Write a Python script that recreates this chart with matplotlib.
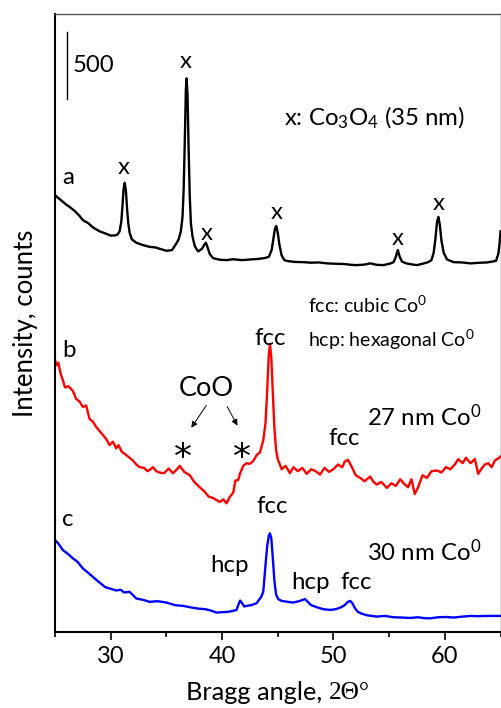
import matplotlib
matplotlib.use("Agg")
import matplotlib.pyplot as plt
import numpy as np

plt.rcParams['font.family'] = ['Lato', 'DejaVu Sans']
plt.rcParams['mathtext.fontset'] = 'custom'
plt.rcParams['mathtext.rm'] = 'Lato'
plt.rcParams['mathtext.it'] = 'Lato:italic'

# curve a: Co3O4 (black)
a_x = [25.0, 25.5, 26.0, 26.3, 26.8, 27.2, 27.5, 28.0, 28.4, 29.0, 29.5, 30.0, 30.4,
       30.6, 30.8, 30.95, 31.05, 31.15, 31.26, 31.37, 31.47, 31.58, 31.7, 31.9,
       32.3, 32.8, 33.5, 34.0, 34.6, 35.0, 35.5, 35.9, 36.1, 36.3, 36.45, 36.55,
       36.65, 36.75, 36.82, 36.9, 37.0, 37.1, 37.2, 37.35, 37.55, 37.85,
       38.2, 38.4, 38.55, 38.7, 38.9, 39.2, 39.8, 40.4, 41.0, 41.8, 42.5, 43.2, 43.8,
       44.2, 44.45, 44.6, 44.75, 44.87, 45.0, 45.15, 45.35, 45.6, 45.9, 46.5, 47.3,
       48.0, 48.7, 49.4, 50.2, 51.0, 51.6, 52.1, 52.8, 53.3, 53.9, 54.5, 55.1, 55.4,
       55.6, 55.78, 55.95, 56.15, 56.5, 56.9, 57.5, 58.0, 58.5, 58.8, 59.0, 59.15,
       59.3, 59.42, 59.55, 59.7, 59.9, 60.2, 60.8, 61.5, 62.3, 63.0, 63.8, 64.3,
       64.6, 64.8, 64.92, 65.0]
a_y = [3260, 3225, 3190, 3173, 3140, 3105, 3074, 3050, 3020, 2990, 2975, 2958, 2960,
       2965, 2990, 3060, 3170, 3300, 3352, 3290, 3160, 3050, 2980, 2930,
       2905, 2890, 2874, 2870, 2855, 2845, 2850, 2900, 2930, 2990, 3100, 3300,
       3650, 4050, 4131, 4000, 3600, 3250, 3050, 2950, 2880, 2840,
       2860, 2890, 2905, 2870, 2820, 2790, 2778, 2775, 2782, 2775, 2780, 2784, 2790,
       2800, 2850, 2930, 3010, 3030, 2980, 2890, 2810, 2775, 2768, 2762, 2760,
       2756, 2758, 2751, 2748, 2746, 2740, 2738, 2742, 2751, 2740, 2738, 2750, 2760,
       2800, 2850, 2800, 2765, 2752, 2745, 2738, 2748, 2760, 2775, 2830, 2930,
       3060, 3098, 3040, 2920, 2830, 2780, 2760, 2758, 2751, 2755, 2758, 2765,
       2770, 2820, 2900, 2990]

# curve b: 27 nm Co0 (red)
b_x = [25.0, 25.15, 25.3, 25.5, 25.7, 25.9, 26.2, 26.6, 26.9, 27.2, 27.5, 27.8, 28.1,
       28.4, 28.7, 29.0, 29.3, 29.6, 29.9, 30.2, 30.5, 30.7, 31.0, 31.4, 31.7, 32.0,
       32.3, 32.6, 33.0, 33.3, 33.5, 33.8, 34.1, 34.4, 34.8, 35.2, 35.6, 35.9, 36.2,
       36.6, 37.1, 37.5, 38.0, 38.4, 38.8, 39.2, 39.5, 39.8, 40.1, 40.4, 40.7, 41.0,
       41.2, 41.45, 41.6, 41.9, 42.2, 42.5, 42.8, 43.1, 43.4, 43.7, 43.9, 44.05, 44.18,
       44.3, 44.42, 44.55, 44.7, 44.85, 45.0, 45.35, 45.7, 46.1, 46.4, 46.8, 47.2, 47.6,
       48.0, 48.4, 48.8, 49.2, 49.6, 50.0, 50.4, 50.8, 51.0, 51.3, 51.6, 52.0, 52.4,
       52.8, 53.3, 53.6, 53.9, 54.3, 54.8, 55.2, 55.6, 56.0, 56.3, 56.7, 57.0, 57.3,
       57.6, 58.0, 58.4, 58.8, 59.3, 59.7, 60.1, 60.5, 60.9, 61.2, 61.6, 61.9, 62.3,
       62.7, 63.0, 63.3, 63.6, 63.9, 64.2, 64.5, 64.8, 65.0]
b_y = [2029, 1990, 2010, 1930, 1880, 1825, 1835, 1800, 1740, 1720, 1680, 1690, 1590,
       1570, 1530, 1500, 1470, 1440, 1395, 1420, 1370, 1395, 1345, 1320, 1300, 1280,
       1250, 1230, 1225, 1200, 1210, 1230, 1200, 1190, 1185, 1220, 1185, 1210, 1240,
       1195, 1170, 1120, 1080, 1050, 1010, 1000, 985, 970, 990, 960, 1010, 1040,
       1130, 1135, 1180, 1240, 1260, 1255, 1275, 1320, 1340, 1430, 1560, 1800, 2050,
       2150, 2050, 1800, 1520, 1360, 1290, 1215, 1240, 1185, 1230, 1200, 1225, 1180,
       1215, 1200, 1175, 1225, 1195, 1215, 1250, 1230, 1270, 1285, 1240, 1170, 1150,
       1125, 1160, 1120, 1100, 1120, 1075, 1110, 1090, 1140, 1110, 1080, 1140, 1030,
       1080, 1170, 1150, 1200, 1205, 1190, 1230, 1215, 1250, 1290, 1260, 1300, 1260,
       1290, 1180, 1220, 1250, 1260, 1230, 1280, 1295, 1310]

# curve c: 30 nm Co0 (blue)
c_x = [25.0, 25.3, 25.7, 26.2, 26.6, 27.0, 27.5, 28.0, 28.7, 29.5, 30.5, 30.9, 31.2,
       31.7, 32.3, 32.9, 33.5, 34.2, 35.0, 35.8, 36.5, 37.1, 37.8, 38.5, 39.0, 39.5,
       40.0, 40.5, 41.0, 41.3, 41.45, 41.62, 41.8, 42.0, 42.2, 42.6, 43.1, 43.5, 43.7,
       43.9, 44.05, 44.2, 44.3, 44.42, 44.55, 44.7, 44.85, 45.05, 45.35, 45.9, 46.4,
       47.0, 47.25, 47.45, 47.7, 48.0, 48.5, 49.1, 49.7, 50.2, 50.7, 51.0, 51.3, 51.5,
       51.7, 51.95, 52.2, 52.5, 53.0, 53.9, 54.6, 55.4, 56.1, 56.9, 57.6, 58.2, 58.7,
       59.4, 60.1, 60.8, 61.6, 62.3, 63.0, 63.7, 64.4, 65.0]
c_y = [687, 660, 612, 580, 550, 525, 475, 440, 390, 335, 310, 315, 295, 300, 250, 240,
       225, 230, 220, 200, 195, 185, 175, 170, 160, 145, 148, 150, 158, 165, 200, 235,
       215, 190, 195, 200, 215, 260, 300, 500, 640, 720, 736, 700, 560, 380, 280, 245,
       232, 225, 220, 232, 240, 245, 225, 200, 185, 170, 165, 170, 185, 200, 225, 232,
       215, 175, 150, 138, 125, 115, 120, 110, 108, 105, 110, 103, 102, 110, 112, 108,
       115, 120, 118, 120, 120, 120]

x_marks = [(31.17, 3469), (36.74, 4260), (38.63, 2976), (44.92, 3133), (55.8, 2939), (59.47, 3200)]

fig = plt.figure(figsize=(5.01, 7.08), dpi=100)
ax = fig.add_axes([55 / 501, 76 / 708, 445.5 / 501, 618 / 708])

ax.plot(a_x, a_y, color='black', lw=1.7)
ax.plot(b_x, b_y, color='#ff0000', lw=1.7)
ax.plot(c_x, c_y, color='#0000ff', lw=1.7)

ax.set_xlim(25, 65)
ax.set_ylim(0, 4612)
ax.set_xticks([30, 40, 50, 60])
ax.set_xticks(np.arange(25, 66, 5), minor=True)
ax.set_yticks([])
ax.tick_params(axis='x', which='major', direction='out', length=6, width=1.2, labelsize=17, pad=4)
ax.tick_params(axis='x', which='minor', direction='out', length=3.5, width=1.2)
for s in ['left', 'bottom']:
    ax.spines[s].set_linewidth(1.5)
for s in ['top', 'right']:
    ax.spines[s].set_color('#555555')
    ax.spines[s].set_linewidth(1.0)

# axis labels; the "2Θ°" part is set in a serif face
ax.set_ylabel("Intensity, counts", fontsize=18.5, labelpad=12)
fig.canvas.draw()
t1 = fig.text(186 / 501, 15 / 708, "Bragg angle, ", fontsize=18.3, ha='left', va='center')
bb = t1.get_window_extent(fig.canvas.get_renderer())
fig.text(bb.x1 / fig.bbox.width, 15 / 708, "2Θ°", fontsize=18.3, ha='left', va='center',
         family=['Liberation Serif', 'DejaVu Serif'])

fs = 17.3
# scale bar
ax.plot([26.05, 26.05], [3976, 4476], color='black', lw=1)
ax.text(26.6, 4230, "500", fontsize=fs, va='center', ha='left')

ax.text(45.6, 3834, r"x: Co$_3$O$_4$ (35 nm)", fontsize=fs, va='center', ha='left')
for px, py in x_marks:
    ax.text(px, py, "x", fontsize=fs, ha='center', va='center')
ax.text(26.14, 3394, "a", fontsize=fs, ha='center', va='center')
ax.text(26.23, 2104, "b", fontsize=fs, ha='center', va='center')
ax.text(26.14, 836, "c", fontsize=fs, ha='center', va='center')

fs2 = 14
ax.text(47.7, 2439, r"fcc: cubic Co$^0$", fontsize=fs2, va='center', ha='left')
ax.text(47.7, 2178, r"hcp: hexagonal Co$^0$", fontsize=fs2, va='center', ha='left')

ax.text(44.29, 2193, "fcc", fontsize=fs, ha='center', va='center')
ax.text(38.63, 1820, "CoO", fontsize=19.5, ha='center', va='center')
ax.annotate("", xy=(37.1, 1507), xytext=(38.72, 1708),
            arrowprops=dict(arrowstyle='-|>', color='black', lw=0.7, mutation_scale=9))
ax.annotate("", xy=(41.5, 1522), xytext=(40.34, 1701),
            arrowprops=dict(arrowstyle='-|>', color='black', lw=0.7, mutation_scale=9))
ax.text(36.47, 1300, "*", fontsize=26, ha='center', va='center', family='DejaVu Sans')
ax.text(41.77, 1300, "*", fontsize=26, ha='center', va='center', family='DejaVu Sans')
ax.text(53.0, 1604, r"27 nm Co$^0$", fontsize=fs, va='center', ha='left')
ax.text(50.94, 1447, "fcc", fontsize=fs, ha='center', va='center')

ax.text(44.47, 933, "fcc", fontsize=fs, ha='center', va='center')
ax.text(53.0, 597, r"30 nm Co$^0$", fontsize=fs, va='center', ha='left')
ax.text(40.7, 500, "hcp", fontsize=fs, ha='center', va='center')
ax.text(47.97, 373, "hcp", fontsize=fs, ha='center', va='center')
ax.text(52.0, 366, "fcc", fontsize=fs, ha='center', va='center')

fig.savefig("out.png", dpi=100)
